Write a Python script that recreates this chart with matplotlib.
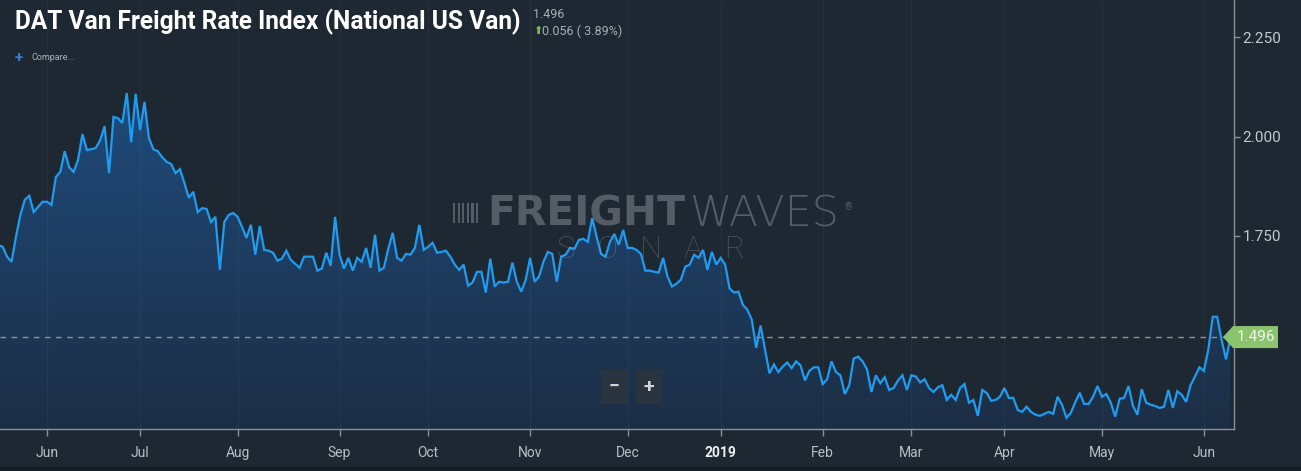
import numpy as np
import pandas as pd
import matplotlib
matplotlib.use("Agg")
import matplotlib.pyplot as plt
from matplotlib.patches import Polygon, Rectangle
from matplotlib.colors import LinearSegmentedColormap

# --- data (one value per business day) ---
start_date = "2018-05-17"
rate = [
    1.727, 1.723, 1.698, 1.685, 1.748, 1.803, 1.841, 1.851, 1.810, 1.823,
    1.836, 1.836, 1.828, 1.898, 1.911, 1.963, 1.923, 1.911, 1.941, 2.006,
    1.966, 1.968, 1.971, 1.991, 2.026, 1.908, 2.049, 2.046, 2.034, 2.109,
    1.986, 2.107, 2.016, 2.087, 1.996, 1.968, 1.963, 1.948, 1.936, 1.931,
    1.908, 1.918, 1.883, 1.846, 1.861, 1.810, 1.820, 1.818, 1.785, 1.798,
    1.665, 1.785, 1.803, 1.808, 1.798, 1.773, 1.745, 1.778, 1.703, 1.775,
    1.715, 1.713, 1.708, 1.688, 1.693, 1.713, 1.690, 1.680, 1.670, 1.698,
    1.698, 1.698, 1.663, 1.668, 1.708, 1.675, 1.798, 1.703, 1.668, 1.695,
    1.663, 1.695, 1.685, 1.720, 1.670, 1.753, 1.663, 1.670, 1.718, 1.758,
    1.695, 1.688, 1.705, 1.703, 1.720, 1.778, 1.715, 1.723, 1.733, 1.708,
    1.710, 1.713, 1.698, 1.678, 1.665, 1.678, 1.625, 1.633, 1.660, 1.660,
    1.608, 1.693, 1.623, 1.635, 1.633, 1.635, 1.683, 1.635, 1.610, 1.640,
    1.695, 1.635, 1.648, 1.685, 1.710, 1.705, 1.635, 1.698, 1.703, 1.720,
    1.718, 1.740, 1.743, 1.735, 1.795, 1.748, 1.705, 1.698, 1.735, 1.755,
    1.728, 1.765, 1.720, 1.720, 1.715, 1.705, 1.663, 1.663, 1.660, 1.658,
    1.695, 1.648, 1.623, 1.630, 1.640, 1.673, 1.678, 1.703, 1.695, 1.715,
    1.665, 1.710, 1.678, 1.695, 1.678, 1.618, 1.608, 1.610, 1.577, 1.565,
    1.540, 1.469, 1.525, 1.464, 1.405, 1.427, 1.408, 1.422, 1.432, 1.418,
    1.435, 1.425, 1.387, 1.411, 1.420, 1.420, 1.378, 1.390, 1.435, 1.408,
    1.400, 1.353, 1.375, 1.442, 1.447, 1.435, 1.415, 1.358, 1.400, 1.380,
    1.395, 1.363, 1.368, 1.387, 1.400, 1.363, 1.400, 1.397, 1.382, 1.390,
    1.368, 1.358, 1.370, 1.375, 1.338, 1.351, 1.338, 1.368, 1.378, 1.331,
    1.338, 1.298, 1.363, 1.356, 1.336, 1.338, 1.346, 1.368, 1.343, 1.343,
    1.313, 1.308, 1.321, 1.308, 1.301, 1.298, 1.303, 1.308, 1.303, 1.346,
    1.326, 1.293, 1.306, 1.333, 1.356, 1.328, 1.328, 1.346, 1.373, 1.346,
    1.353, 1.331, 1.296, 1.341, 1.343, 1.373, 1.323, 1.301, 1.365, 1.331,
    1.326, 1.323, 1.318, 1.321, 1.363, 1.318, 1.360, 1.351, 1.333, 1.375,
    1.397, 1.420, 1.411, 1.464, 1.547, 1.547, 1.489, 1.440, 1.496,
]
y_ticks = [1.75, 2.00, 2.25]
title = "DAT Van Freight Rate Index (National US Van)"
change = 0.056
change_pct = 3.89

dates = pd.bdate_range(start_date, periods=len(rate))
x = np.arange(len(rate))
last = rate[-1]

# month ticks at the first business day of each month
tick_pos = [i for i in range(1, len(dates)) if dates[i].month != dates[i - 1].month]
tick_lab = [str(dates[i].year) if dates[i].month == 1 else dates[i].strftime("%b")
            for i in tick_pos]

W, H = 1301, 471
BG = "#1e2832"
AXC = "#8a9197"
TXT = "#b9bfc5"
LINE = "#1f9cf0"
YMIN, YMAX = 1.265, 2.343


def fx(px):
    return px / W


def fy(py):
    return 1 - py / H


plt.rcParams["font.family"] = ["Roboto", "DejaVu Sans"]
fig = plt.figure(figsize=(W / 100, H / 100), dpi=100, facecolor=BG)
ax = fig.add_axes([0, 42 / H, 1234 / W, 1 - 42 / H])
ax.set_facecolor(BG)
r = fig.canvas.get_renderer()


def fit_width(t, target):
    # scale a text's font size until it spans `target` pixels
    for _ in range(3):
        w = t.get_window_extent(r).width
        t.set_fontsize(t.get_fontsize() * target / w)


# gradient area under the line
verts = np.column_stack([np.r_[x, x[::-1]], np.r_[rate, np.full(len(x), YMIN)]])
clip = Polygon(verts, closed=True, facecolor="none", edgecolor="none")
ax.add_patch(clip)
cmap = LinearSegmentedColormap.from_list("fill", ["#1c2e44", "#1f4c7e"])
grad = np.linspace(0, 1, 256).reshape(-1, 1)
im = ax.imshow(grad, extent=[x[0], x[-1], YMIN, 2.15], origin="lower",
               aspect="auto", cmap=cmap, zorder=1, interpolation="bicubic")
im.set_clip_path(clip)

ax.vlines(tick_pos, YMIN, YMAX, color="white", alpha=0.04, lw=1, zorder=1.5)
ax.axhline(last, color="#8f958b", lw=1, ls=(0, (4, 4)), zorder=2.5)
ax.plot(x, rate, color=LINE, lw=1.6, zorder=3, solid_joinstyle="miter")

ax.set_xlim(0.4, 278.8)
ax.set_ylim(YMIN, YMAX)
for s in ("top", "left"):
    ax.spines[s].set_visible(False)
for s in ("right", "bottom"):
    ax.spines[s].set_color(AXC)
    ax.spines[s].set_linewidth(1)

ax.yaxis.tick_right()
ax.set_yticks(y_ticks)
ax.set_yticklabels([f"{v:.3f}" for v in y_ticks])
ax.tick_params(axis="y", length=4, width=1, color=AXC, labelcolor="#c4c9ce",
               labelsize=11, pad=2)
ax.set_xticks(tick_pos)
ax.set_xticklabels(tick_lab)
ax.tick_params(axis="x", length=5, width=1, color=AXC, labelcolor=TXT,
               labelsize=10, pad=7)
for t in ax.get_xticklabels():
    if t.get_text().isdigit():
        t.set_color("#eef0f2")
        t.set_fontweight("bold")

# last value tag on the right axis
yc = H - ax.transData.transform((0, last))[1]
tag = Polygon([[fx(1223), fy(yc)], [fx(1233), fy(yc - 11)], [fx(1278), fy(yc - 11)],
               [fx(1278), fy(yc + 11)], [fx(1233), fy(yc + 11)]],
              closed=True, transform=fig.transFigure, facecolor="#8cc46d",
              edgecolor="none", zorder=5)
fig.add_artist(tag)
fig.text(fx(1256), fy(yc), f"{last:.3f}", color="#f4f8f0", fontsize=11,
         ha="center", va="center", zorder=6)

# watermark
WMC = "#a0a6ac"
for k in range(6):
    fig.add_artist(Rectangle((fx(453 + k * 4.6), fy(223)), 2.2 / W, 20 / H,
                             transform=fig.transFigure, facecolor=WMC,
                             alpha=0.42, edgecolor="none"))
w1 = fig.text(fx(487), fy(214), "FREIGHT", fontsize=26, fontweight="bold",
              family=["DejaVu Sans"], color=WMC, alpha=0.42, va="center")
fit_width(w1, 198)
w2 = fig.text(fx(689), fy(214), "WAVES", fontsize=24, fontweight="light",
              family=["DejaVu Sans"], color=WMC, alpha=0.42, va="center")
fit_width(w2, 150)
fig.text(fx(845), fy(207), "®", fontsize=7, color=WMC, alpha=0.42, va="center")
w3 = fig.text(fx(557), fy(250), "S   O   N   A   R", fontsize=23,
              fontweight="light", color=WMC, alpha=0.35, va="center")
fit_width(w3, 188)

# zoom buttons
for cx, s in ((614, "−"), (649, "+")):
    fig.text(fx(cx), fy(387), s, fontsize=14, fontweight="bold", color="#d0d4d8",
             ha="center", va="center",
             bbox=dict(boxstyle="square,pad=0.4", facecolor="#2a343e",
                       edgecolor="none"))

# header texts
tt = fig.text(fx(15), fy(22), title, color="white", fontweight="bold",
              fontsize=16, ha="left", va="center",
              family=["Liberation Sans Narrow", "Roboto", "DejaVu Sans"])
fit_width(tt, 508)

fig.text(fx(533), fy(14), f"{last:.3f}", color="#a6adb4", fontsize=9,
         ha="left", va="center")
fig.text(fx(533), fy(31), "⬆", color="#7fc24a", fontsize=8, ha="left",
         va="center", family=["DejaVu Sans"])
fig.text(fx(542), fy(31), f"{change:.3f} ( {change_pct:.2f}%)", color="#a6adb4",
         fontsize=9, ha="left", va="center")
fig.text(fx(19), fy(58), "+", color="#2f80e0", fontsize=11, fontweight="bold",
         ha="center", va="center")
fig.text(fx(31), fy(58), "Compare...", color="#aab0b6", fontsize=6.5,
         ha="left", va="center")

fig.add_artist(Rectangle((0, 0), 1, 4 / H, transform=fig.transFigure,
                         facecolor="#151c23", edgecolor="none"))

fig.savefig("out.png", dpi=100, facecolor=BG)
